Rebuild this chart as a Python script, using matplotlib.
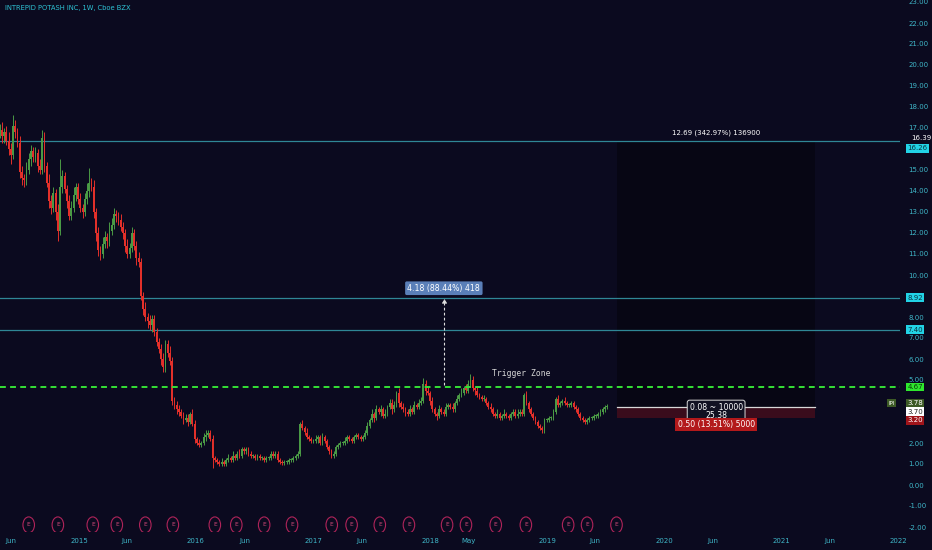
import numpy as np
import matplotlib
matplotlib.use("Agg")
import matplotlib.pyplot as plt
import matplotlib.dates as mdates
from matplotlib.patches import Ellipse, Rectangle
import matplotlib.transforms as mtrans
import datetime as dt

# ---------------- data ----------------
title = "INTREPID POTASH INC, 1W, Cboe BZX"
first_week = dt.date(2014, 4, 28)
first_open = 16.7

closes = [
    16.9, 16.6, 16.8, 16.4, 16.0, 15.7, 17.1, 16.8, 16.3, 14.9,
    14.6, 14.5, 15.0, 15.5, 15.9, 15.6, 15.8, 15.2, 15.0, 16.5,
    15.2, 14.4, 13.5, 13.2, 13.9, 13.0, 12.1, 14.2, 14.7, 14.1,
    13.5, 12.8, 13.2, 13.8, 14.2, 13.6, 13.2, 13.0, 13.6, 14.0,
    14.4, 14.2, 13.0, 12.0, 11.2, 11.0, 11.5, 11.8, 11.6, 12.1,
    12.4, 12.9, 12.8, 12.6, 12.3, 12.0, 11.4, 11.0, 11.3, 12.0,
    11.4, 10.8, 10.6, 9.0, 8.4, 8.0, 7.8, 7.6, 7.9, 7.3,
    6.8, 6.5, 6.0, 5.6, 6.7, 6.3, 5.9, 4.0, 3.8, 3.6,
    3.5, 3.3, 3.1, 3.2, 3.0, 3.4, 2.9, 2.2, 2.0, 1.9,
    2.0, 2.3, 2.4, 2.5, 2.2, 1.3, 1.2, 1.1, 1.0, 1.1,
    1.0, 1.2, 1.3, 1.2, 1.4, 1.3, 1.5, 1.4, 1.7, 1.6,
    1.7, 1.5, 1.4, 1.4, 1.3, 1.4, 1.3, 1.3, 1.2, 1.3,
    1.3, 1.5, 1.4, 1.5, 1.2, 1.1, 1.05, 1.1, 1.1, 1.2,
    1.2, 1.3, 1.4, 1.5, 2.9, 2.7, 2.5, 2.3, 2.2, 2.1,
    2.1, 2.2, 2.3, 2.0, 2.3, 2.1, 1.8, 1.6, 1.4, 1.5,
    1.8, 1.9, 2.0, 2.0, 2.1, 2.3, 2.2, 2.1, 2.3, 2.4,
    2.3, 2.2, 2.3, 2.5, 2.8, 3.1, 3.4, 3.2, 3.6, 3.5,
    3.6, 3.3, 3.4, 3.7, 3.9, 3.6, 3.8, 4.4, 3.9, 3.7,
    3.6, 3.5, 3.4, 3.6, 3.5, 3.8, 3.7, 3.9, 4.0, 4.8,
    4.5, 4.4, 4.0, 3.6, 3.4, 3.3, 3.6, 3.5, 3.4, 3.7,
    3.8, 3.7, 3.6, 3.9, 4.1, 4.3, 4.4, 4.6, 4.5, 4.8,
    5.0, 4.6, 4.5, 4.3, 4.2, 4.1, 4.1, 3.9, 3.7, 3.6,
    3.4, 3.3, 3.4, 3.2, 3.3, 3.4, 3.3, 3.2, 3.4, 3.5,
    3.3, 3.4, 3.5, 3.4, 4.3, 3.9, 3.6, 3.4, 3.2, 3.0,
    2.8, 2.7, 2.6, 3.1, 3.1, 3.2, 3.2, 3.5, 4.1, 3.8,
    3.9, 4.0, 3.9, 3.8, 3.8, 3.9, 3.7, 3.6, 3.4, 3.2,
    3.1, 3.0, 3.1, 3.2, 3.2, 3.3, 3.3, 3.4, 3.5, 3.6,
    3.7, 3.78,
]

wick_up = [
    .3, .4, .2, .3, .4, .3, .5, .3, .2, .3,
    .3, .2, .4, .3, .3, .2, .3, .2, .3, .4,
    .3, .2, .4, .3, .3, .2, .4, 1.3, .3, .2,
    .2, .3, .3, .4, .2, .2, .3, .2, .3, .4,
    .7, .2, .3, .2, .3, .2, .3, .3, .2, .4,
    .3, .3, .2, .2, .3, .2, .2, .3, .2, .3,
    .2, .2, .3, .2, .2, .3, .2, .3, .2, .2,
    .2, .2, .2, .3, .2, .2, .3, .2, .2, .2,
    .2, .1, .2, .2, .2, .1, .2, .2, .1, .2,
    .1, .2, .2, .1, .1, .2, .1, .1, .1, .2,
    .1, .1, .2, .1, .2, .1, .1, .2, .1, .1,
    .1, .1, .1, .1, .1, .1, .1, .1, .1, .1,
    .1, .1, .1, .1, .1, .1, .1, .1, .1, .1,
    .1, .1, .1, .1, .1, .2, .1, .2, .1, .1,
    .1, .2, .1, .1, .2, .1, .1, .1, .1, .1,
    .1, .1, .1, .1, .2, .1, .1, .1, .1, .1,
    .1, .1, .1, .1, .2, .1, .2, .1, .2, .1,
    .2, .1, .2, .1, .2, .2, .2, .1, .2, .1,
    .2, .1, .1, .2, .1, .2, .1, .2, .2, .3,
    .2, .2, .1, .2, .1, .1, .2, .1, .1, .2,
    .1, .1, .2, .1, .2, .1, .2, .1, .2, .2,
    .3, .2, .1, .2, .1, .1, .2, .1, .1, .2,
    .1, .1, .2, .1, .1, .2, .1, .1, .1, .1,
    .1, .2, .1, .1, .1, .2, .1, .1, .1, .1,
    .1, .1, .1, .1, .1, .1, .1, .1, .1, .2,
    .1, .1, .2, .1, .1, .1, .1, .1, .1, .1,
    .1, .1, .1, .1, .1, .1, .1, .1, .1, .1,
    .1, .1,
]

wick_dn = [
    .2, .3, .3, .2, .3, .4, .2, .3, .2, .3,
    .3, .3, .2, .2, .3, .2, .2, .3, .2, .2,
    .3, .2, .3, .3, .2, .4, .5, .2, .3, .2,
    .3, .2, .2, .2, .3, .2, .2, .3, .2, .2,
    .3, .2, .3, .4, .3, .3, .2, .2, .3, .2,
    .2, .2, .3, .2, .2, .3, .3, .2, .2, .2,
    .2, .3, .2, .2, .3, .2, .3, .2, .3, .2,
    .2, .2, .3, .2, .2, .2, .2, .2, .2, .2,
    .2, .1, .2, .1, .2, .1, .1, .2, .1, .1,
    .1, .1, .2, .1, .1, .5, .1, .1, .1, .1,
    .1, .1, .1, .1, .1, .1, .1, .1, .1, .1,
    .1, .1, .1, .1, .1, .1, .1, .1, .1, .1,
    .1, .1, .1, .1, .1, .1, .1, .1, .1, .1,
    .1, .1, .1, .1, .1, .1, .1, .1, .1, .1,
    .1, .1, .2, .1, .1, .1, .1, .1, .1, .1,
    .1, .1, .1, .1, .1, .1, .1, .1, .1, .1,
    .1, .1, .1, .1, .1, .1, .1, .2, .1, .1,
    .2, .1, .1, .1, .1, .2, .1, .1, .2, .1,
    .1, .2, .1, .1, .1, .1, .1, .1, .1, .1,
    .2, .1, .2, .1, .1, .2, .1, .1, .1, .1,
    .1, .1, .1, .1, .1, .1, .1, .1, .1, .1,
    .1, .1, .2, .1, .1, .1, .1, .1, .1, .1,
    .1, .1, .1, .1, .1, .1, .1, .1, .1, .1,
    .1, .1, .1, .1, .1, .1, .1, .1, .1, .1,
    .1, .1, .1, .1, .1, .1, .1, .1, .1, .1,
    .1, .1, .1, .1, .1, .1, .1, .1, .1, .1,
    .1, .1, .1, .1, .1, .1, .1, .1, .1, .1,
    .1, .1,
]

earnings_dates = [
    "2014-07-28", "2014-10-27", "2015-02-13", "2015-04-29", "2015-07-27",
    "2015-10-21", "2016-02-29", "2016-05-06", "2016-08-01", "2016-10-27",
    "2017-02-28", "2017-05-01", "2017-07-28", "2017-10-27", "2018-02-23",
    "2018-04-23", "2018-07-25", "2018-10-27", "2019-03-08", "2019-05-06",
    "2019-08-06",
]

xtick_dates = ["2014-06-01", "2015-01-01", "2015-06-01", "2016-01-01", "2016-06-01",
               "2017-01-01", "2017-06-01", "2018-01-01", "2018-05-01", "2019-01-01",
               "2019-06-01", "2020-01-01", "2020-06-01", "2021-01-01", "2021-06-01",
               "2022-01-01"]
xtick_labels = ["Jun", "2015", "Jun", "2016", "Jun", "2017", "Jun", "2018", "May",
                "2019", "Jun", "2020", "Jun", "2021", "Jun", "2022"]

level_top = 16.39
level_top_b = 16.26
level_mid1 = 8.92
level_mid2 = 7.40
trigger_level = 4.67
last_price = 3.78
entry_price = 3.70
stop_price = 3.20
measure_base = 4.74
measure_date = "2018-02-13"
pos_start = "2019-08-08"
pos_end = "2021-04-17"

# ---------------- style ----------------
BG = "#0b0a1f"
GREEN = "#4a9a45"
RED = "#e3302a"
AXC = "#3fb6c8"
TEAL = "#2f8796"


def d2n(s):
    return mdates.date2num(dt.date.fromisoformat(s))


fig = plt.figure(figsize=(9.32, 5.5), dpi=100, facecolor=BG)
ax = fig.add_axes([0, 18 / 550, 900 / 932, 532 / 550])
ax.set_facecolor(BG)
for sp in ax.spines.values():
    sp.set_visible(False)

x_left = mdates.date2num(dt.date(2015, 1, 1)) - 79 / (117 / 365.25)
x_right = mdates.date2num(dt.date(2015, 1, 1)) + 821 / (117 / 365.25)
ax.set_xlim(x_left, x_right)
ax.set_ylim(-47 / 21, 485 / 21)

# ---------- position tool zones ----------
ps, pe = d2n(pos_start), d2n(pos_end)
ax.add_patch(Rectangle((ps, entry_price), pe - ps, level_top - entry_price,
                       facecolor="#070614", edgecolor="none", zorder=0.5))
ax.add_patch(Rectangle((ps, stop_price), pe - ps, entry_price - stop_price,
                       facecolor="#3a0c1c", edgecolor="none", zorder=0.6))
ax.plot([ps, pe], [entry_price, entry_price], color="#d8d8d8", lw=0.9, zorder=3)

# ---------- horizontal levels ----------
for lv in (level_top, level_mid1, level_mid2):
    ax.axhline(lv, color=TEAL, lw=0.9, zorder=1)
ax.axhline(trigger_level, color="#35e035", lw=1.4, ls=(0, (3, 2.2)), zorder=4)

# ---------- candles ----------
n = len(closes)
dates = [mdates.date2num(first_week + dt.timedelta(days=7 * i)) for i in range(n)]
opens = [first_open] + closes[:-1]
for i in range(n):
    o, c = opens[i], closes[i]
    col = GREEN if c >= o else RED
    hi = max(o, c) + wick_up[i]
    lo = min(o, c) - wick_dn[i]
    ax.vlines(dates[i], lo, hi, color=col, lw=0.7, zorder=2)
    h = c - o
    if abs(h) < 0.05:
        h = 0.05 if h >= 0 else -0.05
    ax.bar(dates[i], h, bottom=o, width=5.6, color=col, edgecolor="none", zorder=2.1)

# ---------- measure arrow ----------
md = d2n(measure_date)
ax.plot([md, md], [measure_base, level_mid1 - 0.05], color="#e0e0e0", lw=0.8,
        ls=(0, (2.5, 2)), zorder=5)
ax.plot([md], [level_mid1 - 0.1], marker=6, color="#e0e0e0", ms=3, zorder=5)
ax.text(md, 9.37, "4.18 (88.44%) 418", color="white", fontsize=5.6, ha="center",
        va="center", zorder=6,
        bbox=dict(boxstyle="round,pad=0.3,rounding_size=0.2", fc="#5a7fb8", ec="none"))

ax.text(d2n("2018-10-14"), 5.29, "Trigger Zone", color="#d6d6d6", fontsize=5.8,
        family="DejaVu Sans Mono", ha="center", va="center", zorder=6)

ax.text(d2n("2020-06-12"), 16.78, "12.69 (342.97%) 136900", color="white", fontsize=5.0,
        ha="center", va="center", zorder=6)
ax.text(d2n("2020-06-12"), 3.5, "0.08 ~ 10000\n25.38", color="white", fontsize=5.6,
        ha="center", va="center", zorder=6, linespacing=1.0,
        bbox=dict(boxstyle="round,pad=0.3,rounding_size=0.3", fc="#111122", ec="#d8d8d8", lw=0.7))
ax.text(d2n("2020-06-12"), 2.88, "0.50 (13.51%) 5000", color="white", fontsize=5.6,
        ha="center", va="center", zorder=6,
        bbox=dict(boxstyle="square,pad=0.3", fc="#b3191b", ec="none"))

# ---------- earnings markers ----------
for s in earnings_dates:
    xd = d2n(s)
    ax.add_patch(Ellipse((xd, -1.9), 36, 0.76, facecolor="none", edgecolor="#b0245a",
                         lw=0.8, zorder=3))
    ax.text(xd, -1.9, "E", color="#d04a7a", fontsize=4.2, ha="center", va="center", zorder=3)

# ---------- title ----------
ax.text(5 / 900, 1 - 8 / 532, title, transform=ax.transAxes, color="#2ec2d4",
        fontsize=4.9, ha="left", va="center")

# ---------- y axis on right ----------
ax.yaxis.tick_right()
yt = [v for v in range(-2, 24) if v not in (16, 9, 3)]
ax.set_yticks(yt)
ax.set_yticklabels([f"{v:.2f}" for v in yt])
ax.tick_params(axis="y", length=0, pad=6, labelsize=5, labelcolor=AXC)

# ---------- x axis ----------
ax.set_xticks([d2n(s) for s in xtick_dates])
ax.set_xticklabels(xtick_labels)
ax.tick_params(axis="x", length=0, pad=4, labelsize=5, labelcolor=AXC)

# ---------- price boxes on axis ----------
trans = mtrans.blended_transform_factory(ax.transAxes, ax.transData)


def pbox(y, txt, fc, tc, ec="none"):
    ax.text(1.008, y, txt, transform=trans, color=tc, fontsize=5, ha="left", va="center",
            zorder=10, clip_on=False,
            bbox=dict(boxstyle="square,pad=0.2", fc=fc, ec=ec))


ax.text(1.012, level_top + 0.12, f"{level_top:.2f}", transform=trans, color="white",
        fontsize=5, ha="left", va="center", clip_on=False, zorder=10)
pbox(level_top_b - 0.22, f"{level_top_b:.2f}", "#22d3e6", "#0a3340")
pbox(level_mid1, f"{level_mid1:.2f}", "#22d3e6", "#0a3340")
pbox(level_mid2, f"{level_mid2:.2f}", "#22d3e6", "#0a3340")
pbox(trigger_level, f"{trigger_level:.2f}", "#2ee82e", "#0a3a0a")
pbox(3.9, f"{last_price:.2f}", "#3d5a26", "white")
ax.text(0.994, 3.9, "IPI", transform=trans, color="white", fontsize=4,
        ha="right", va="center", clip_on=False, zorder=10,
        bbox=dict(boxstyle="square,pad=0.2", fc="#3d5a26", ec="none"))
pbox(3.5, f"{entry_price:.2f}", "white", "#222222")
pbox(3.08, f"{stop_price:.2f}", "#a0141a", "white")

fig.savefig("out.png", dpi=100, facecolor=BG)
